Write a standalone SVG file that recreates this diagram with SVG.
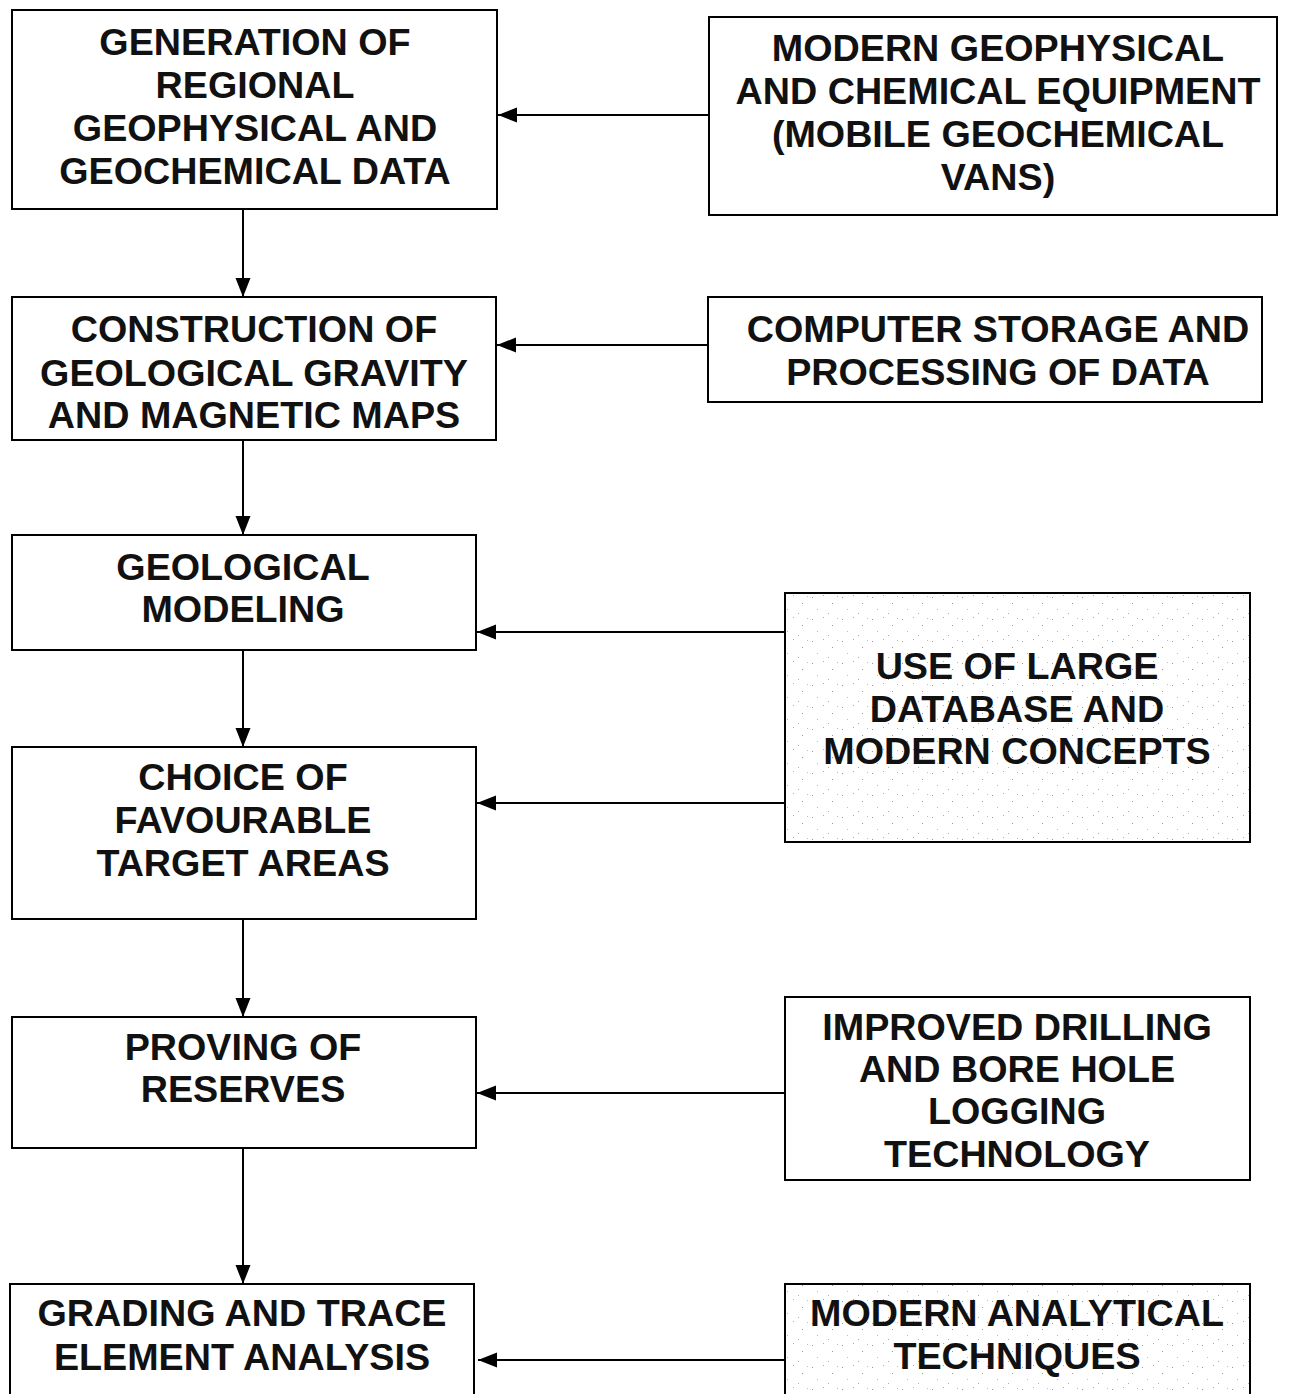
<svg xmlns="http://www.w3.org/2000/svg" width="1290" height="1394" viewBox="0 0 1290 1394">
  <style>
    .box { fill: #fff; stroke: #000; stroke-width: 2; }
    .dotted { fill: url(#speckle); stroke: #000; stroke-width: 2; }
    .label { font-family: "Liberation Sans", Arial, sans-serif; font-weight: bold; font-size: 37.7px; fill: #111; text-anchor: middle; }
    .link { stroke: #000; stroke-width: 2; fill: none; marker-end: url(#arrow); }
  </style>
  <defs>
    <marker id="arrow" markerUnits="userSpaceOnUse" markerWidth="20" markerHeight="18" refX="19" refY="9" orient="auto" overflow="visible">
      <path d="M0,1.5 L19,9 L0,16.5 z" fill="#000"/>
    </marker>
    <!-- light speckled screen used as fill for two of the side boxes -->
    <pattern id="speckle" patternUnits="userSpaceOnUse" width="30" height="22">
      <rect width="30" height="22" fill="#fff"/>
      <rect x="2" y="3" width="1" height="1" fill="#999"/>
      <rect x="13" y="1" width="1" height="1" fill="#aaa"/>
      <rect x="22" y="9" width="1" height="1" fill="#999"/>
      <rect x="7" y="15" width="1" height="1" fill="#bbb"/>
      <rect x="18" y="19" width="1" height="1" fill="#aaa"/>
      <rect x="27" y="2" width="1" height="1" fill="#bbb"/>
    </pattern>
  </defs>

  <g id="connectors">
    <line class="link" x1="709" y1="115" x2="498" y2="115"/>
    <line class="link" x1="243" y1="209" x2="243" y2="297"/>
    <line class="link" x1="708" y1="345" x2="497" y2="345"/>
    <line class="link" x1="243" y1="440" x2="243" y2="535"/>
    <line class="link" x1="785" y1="632" x2="477" y2="632"/>
    <line class="link" x1="785" y1="803" x2="477" y2="803"/>
    <line class="link" x1="243" y1="650" x2="243" y2="747"/>
    <line class="link" x1="243" y1="919" x2="243" y2="1017"/>
    <line class="link" x1="785" y1="1093" x2="477" y2="1093"/>
    <line class="link" x1="243" y1="1148" x2="243" y2="1284"/>
    <line class="link" x1="785" y1="1360" x2="478" y2="1360"/>
  </g>

  <g id="generation">
    <rect class="box" x="12" y="10" width="485" height="199"/>
    <text class="label" x="255" y="55">GENERATION OF</text>
    <text class="label" x="255" y="98">REGIONAL</text>
    <text class="label" x="255" y="141">GEOPHYSICAL AND</text>
    <text class="label" x="255" y="184">GEOCHEMICAL DATA</text>
  </g>

  <g id="equipment">
    <rect class="box" x="709" y="17" width="568" height="198"/>
    <text class="label" x="998" y="61">MODERN GEOPHYSICAL</text>
    <text class="label" x="998" y="104">AND CHEMICAL EQUIPMENT</text>
    <text class="label" x="998" y="147">(MOBILE GEOCHEMICAL</text>
    <text class="label" x="998" y="190">VANS)</text>
  </g>

  <g id="construction">
    <rect class="box" x="12" y="297" width="484" height="143"/>
    <text class="label" x="254" y="342">CONSTRUCTION OF</text>
    <text class="label" x="254" y="386">GEOLOGICAL GRAVITY</text>
    <text class="label" x="254" y="428">AND MAGNETIC MAPS</text>
  </g>

  <g id="computer">
    <rect class="box" x="708" y="297" width="554" height="105"/>
    <text class="label" x="998" y="342">COMPUTER STORAGE AND</text>
    <text class="label" x="998" y="385">PROCESSING OF DATA</text>
  </g>

  <g id="modeling">
    <rect class="box" x="12" y="535" width="464" height="115"/>
    <text class="label" x="243" y="580">GEOLOGICAL</text>
    <text class="label" x="243" y="622">MODELING</text>
  </g>

  <g id="database">
    <rect class="dotted" x="785" y="593" width="465" height="249"/>
    <text class="label" x="1017" y="679">USE OF LARGE</text>
    <text class="label" x="1017" y="722">DATABASE AND</text>
    <text class="label" x="1017" y="764">MODERN CONCEPTS</text>
  </g>

  <g id="targets">
    <rect class="box" x="12" y="747" width="464" height="172"/>
    <text class="label" x="243" y="790">CHOICE OF</text>
    <text class="label" x="243" y="833">FAVOURABLE</text>
    <text class="label" x="243" y="876">TARGET AREAS</text>
  </g>

  <g id="proving">
    <rect class="box" x="12" y="1017" width="464" height="131"/>
    <text class="label" x="243" y="1060">PROVING OF</text>
    <text class="label" x="243" y="1102">RESERVES</text>
  </g>

  <g id="drilling">
    <rect class="box" x="785" y="997" width="465" height="183"/>
    <text class="label" x="1017" y="1040">IMPROVED DRILLING</text>
    <text class="label" x="1017" y="1082">AND BORE HOLE</text>
    <text class="label" x="1017" y="1124">LOGGING</text>
    <text class="label" x="1017" y="1167">TECHNOLOGY</text>
  </g>

  <g id="grading">
    <rect class="box" x="10" y="1284" width="464" height="130"/>
    <text class="label" x="242" y="1326">GRADING AND TRACE</text>
    <text class="label" x="242" y="1370">ELEMENT ANALYSIS</text>
  </g>

  <g id="analytical">
    <rect class="dotted" x="785" y="1284" width="465" height="130"/>
    <text class="label" x="1017" y="1326">MODERN ANALYTICAL</text>
    <text class="label" x="1017" y="1369">TECHNIQUES</text>
  </g>
</svg>
